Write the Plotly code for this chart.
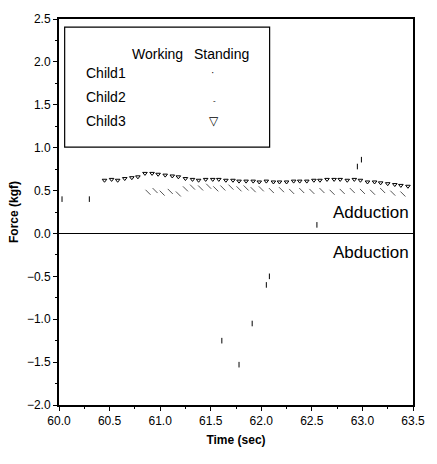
import plotly.graph_objects as go

# Child3 (upper band of open triangles)
c3_time = [60.45, 60.52, 60.58, 60.65, 60.72, 60.78, 60.85, 60.92, 60.98, 61.05,
           61.12, 61.18, 61.25, 61.32, 61.38, 61.45, 61.52, 61.58, 61.65, 61.72,
           61.78, 61.85, 61.92, 61.98, 62.05, 62.12, 62.18, 62.25, 62.32, 62.38,
           62.45, 62.52, 62.58, 62.65, 62.72, 62.78, 62.85, 62.92, 62.98, 63.05,
           63.12, 63.18, 63.25, 63.32, 63.38, 63.45]
c3_force = [0.62, 0.63, 0.62, 0.64, 0.65, 0.66, 0.70, 0.70, 0.69, 0.68,
            0.67, 0.66, 0.64, 0.63, 0.62, 0.63, 0.63, 0.63, 0.62, 0.62,
            0.61, 0.61, 0.61, 0.60, 0.61, 0.60, 0.60, 0.60, 0.61, 0.61,
            0.61, 0.62, 0.62, 0.63, 0.63, 0.63, 0.62, 0.63, 0.62, 0.60,
            0.60, 0.59, 0.58, 0.57, 0.56, 0.55]

# Child2 (lower band of small slanted ticks)
c2_time = [60.88, 60.95, 61.02, 61.10, 61.18, 61.25, 61.32, 61.40, 61.48, 61.55,
           61.62, 61.70, 61.78, 61.85, 61.92, 62.00, 62.10, 62.20, 62.30, 62.40,
           62.50, 62.60, 62.70, 62.80, 62.90, 63.00, 63.10, 63.20, 63.30, 63.40]
c2_force = [0.48, 0.50, 0.47, 0.49, 0.46, 0.52, 0.54, 0.53, 0.55, 0.52,
            0.53, 0.54, 0.52, 0.53, 0.51, 0.52, 0.50, 0.51, 0.49, 0.50,
            0.49, 0.50, 0.48, 0.49, 0.50, 0.49, 0.48, 0.50, 0.47, 0.46]

# Child1 (sparse dots / dashes)
c1_time = [60.03, 60.30, 62.55, 62.95, 62.99, 62.08, 62.05, 61.91, 61.61, 61.78]
c1_force = [0.40, 0.40, 0.10, 0.78, 0.86, -0.50, -0.60, -1.05, -1.25, -1.53]

x_ticks = [60.0, 60.5, 61.0, 61.5, 62.0, 62.5, 63.0, 63.5]
y_ticks = [-2.0, -1.5, -1.0, -0.5, 0.0, 0.5, 1.0, 1.5, 2.0, 2.5]

FONT = "Liberation Sans, Arial, sans-serif"

fig = go.Figure()
fig.add_trace(go.Scatter(x=c3_time, y=c3_force, mode="markers", name="Child3",
                         marker=dict(symbol="triangle-down-open", size=4,
                                     color="black", line=dict(width=1, color="black"))))
fig.add_trace(go.Scatter(x=c2_time, y=c2_force, mode="markers", name="Child2",
                         marker=dict(symbol="line-nw-open", size=5,
                                     color="#555", line=dict(width=1, color="#555"))))
fig.add_trace(go.Scatter(x=c1_time, y=c1_force, mode="markers", name="Child1",
                         marker=dict(symbol="line-ns-open", size=4,
                                     color="black", line=dict(width=1, color="black"))))

axis_common = dict(showline=True, linecolor="black", mirror=True,
                   showgrid=False, ticks="outside", ticklen=4, tickwidth=1,
                   tickcolor="black", tickfont=dict(family=FONT, size=12, color="black"),
                   minor=dict(ticks="outside", ticklen=2, tickcolor="black", dtick=0.25))

fig.update_xaxes(range=[60.0, 63.5], tickvals=x_ticks, tickformat=".1f", linewidth=1.5,
                 title=dict(text="<b>Time (sec)</b>", font=dict(family=FONT, size=12, color="black"),
                            standoff=8),
                 zeroline=False, **axis_common)
fig.update_yaxes(range=[-2.0, 2.5], tickvals=y_ticks, tickformat=".1f", linewidth=2,
                 title=dict(text="<b>Force (kgf)</b>", font=dict(family=FONT, size=12, color="black"),
                            standoff=6),
                 zeroline=True, zerolinecolor="black", zerolinewidth=1, **axis_common)

# legend box
fig.add_shape(type="rect", xref="paper", yref="paper", x0=0.016, x1=0.595, y0=0.668, y1=0.979,
              line=dict(color="black", width=1.2), fillcolor="rgba(0,0,0,0)")

def ann(text, x, y, xanchor="left", size=14, xref="paper", yref="paper"):
    fig.add_annotation(text=text, x=x, y=y, xref=xref, yref=yref, xanchor=xanchor,
                       yanchor="middle", showarrow=False,
                       font=dict(family=FONT, size=size, color="black"))

ann("Working", 0.278, 0.910, xanchor="center")
ann("Standing", 0.460, 0.910, xanchor="center")
ann("Child1", 0.072, 0.860)
ann("Child2", 0.072, 0.797)
ann("Child3", 0.072, 0.735)
ann("·", 0.435, 0.862, xanchor="center", size=10)
ann("-", 0.438, 0.790, xanchor="center", size=8)
ann("▽", 0.437, 0.735, xanchor="center", size=12)

ann("Adduction", 0.995, 0.24, xanchor="right", size=17, yref="y")
ann("Abduction", 0.995, -0.22, xanchor="right", size=17, yref="y")

fig.update_layout(width=437, height=464, margin=dict(l=56, r=13, t=16, b=59),
                  plot_bgcolor="white", paper_bgcolor="white", showlegend=False,
                  font=dict(family=FONT, color="black"))

fig.write_html("out.html")
